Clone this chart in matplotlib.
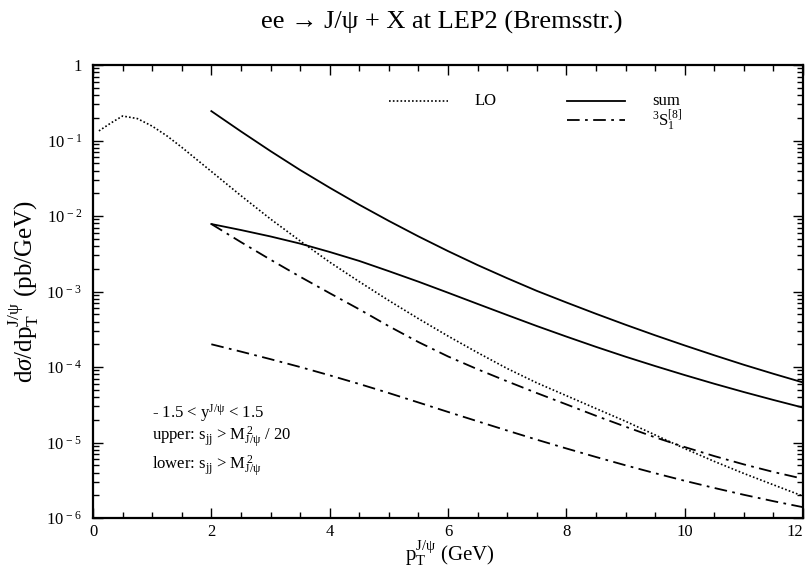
import matplotlib
matplotlib.use("Agg")
import matplotlib.pyplot as plt
from matplotlib.ticker import FixedLocator, LogLocator, NullFormatter

plt.rcParams['font.family'] = ['Liberation Serif', 'DejaVu Serif']
plt.rcParams['mathtext.fontset'] = 'custom'
plt.rcParams['mathtext.rm'] = 'Liberation Serif'
plt.rcParams['mathtext.it'] = 'Liberation Serif:italic'
plt.rcParams['mathtext.bf'] = 'Liberation Serif:bold'

# LO (dotted)
pt_lo = [0.1, 0.3, 0.5, 0.75, 1.0, 1.25, 1.5, 1.75, 2.0, 2.5, 3.0, 3.5, 4.0, 4.5,
         5.0, 5.5, 6.0, 6.5, 7.0, 7.5, 8.0, 8.5, 9.0, 9.5, 10.0, 10.5, 11.0, 11.5, 12.0]
lo = [0.134, 0.170, 0.211, 0.195, 0.155, 0.115, 0.0813, 0.0562, 0.0389, 0.0186,
      9.12e-3, 4.68e-3, 2.45e-3, 1.35e-3, 7.59e-4, 4.37e-4, 2.57e-4, 1.55e-4, 9.55e-5,
      6.17e-5, 4.17e-5, 2.82e-5, 1.91e-5, 1.26e-5, 8.32e-6, 5.62e-6, 3.89e-6, 2.75e-6, 1.95e-6]

# curves starting at pT = 2 GeV
pt = [2.0, 2.5, 3.0, 3.5, 4.0, 4.5, 5.0, 5.5, 6.0, 6.5, 7.0, 7.5, 8.0,
      8.5, 9.0, 9.5, 10.0, 10.5, 11.0, 11.5, 12.0]
sum_upper = [0.245, 0.132, 0.0724, 0.0407, 0.0237, 0.0141, 8.61e-3, 5.37e-3, 3.43e-3,
             2.24e-3, 1.50e-3, 1.02e-3, 7.16e-4, 5.07e-4, 3.63e-4, 2.63e-4, 1.93e-4,
             1.43e-4, 1.07e-4, 8.13e-5, 6.24e-5]
sum_lower = [7.83e-3, 6.52e-3, 5.36e-3, 4.31e-3, 3.34e-3, 2.54e-3, 1.86e-3, 1.35e-3,
             9.64e-4, 6.85e-4, 4.88e-4, 3.49e-4, 2.53e-4, 1.85e-4, 1.37e-4, 1.03e-4,
             7.82e-5, 6.0e-5, 4.66e-5, 3.66e-5, 2.90e-5]
s1_upper = [7.83e-3, 4.51e-3, 2.64e-3, 1.57e-3, 9.51e-4, 5.81e-4, 3.47e-4, 2.14e-4,
            1.38e-4, 9.33e-5, 6.46e-5, 4.52e-5, 3.20e-5, 2.26e-5, 1.62e-5, 1.17e-5,
            8.71e-6, 6.61e-6, 5.13e-6, 4.07e-6, 3.31e-6]
s1_lower = [2.0e-4, 1.60e-4, 1.27e-4, 1.0e-4, 7.76e-5, 5.96e-5, 4.52e-5, 3.39e-5,
            2.54e-5, 1.91e-5, 1.44e-5, 1.09e-5, 8.34e-6, 6.43e-6, 4.99e-6, 3.92e-6,
            3.11e-6, 2.50e-6, 2.03e-6, 1.67e-6, 1.39e-6]

yticks = [1e-6, 1e-5, 1e-4, 1e-3, 1e-2, 1e-1, 1]
yticklabels = [r"10$^{\,-6}$", r"10$^{\,-5}$", r"10$^{\,-4}$", r"10$^{\,-3}$",
               r"10$^{\,-2}$", r"10$^{\,-1}$", "1"]
xticks = [0, 2, 4, 6, 8, 10, 12]

dashdot = (0, (7, 3, 1.5, 3))
dotted = (0, (1, 1.3))

fig = plt.figure(figsize=(8.09, 5.71), dpi=100)
ax = fig.add_axes([93 / 809, 53 / 571, 710 / 809, 453 / 571])

ax.plot(pt_lo, lo, color='black', lw=1.2, linestyle=dotted)
ax.plot(pt, sum_upper, color='black', lw=1.3)
ax.plot(pt, sum_lower, color='black', lw=1.3)
ax.plot(pt, s1_upper, color='black', lw=1.3, linestyle=dashdot)
ax.plot(pt, s1_lower, color='black', lw=1.3, linestyle=dashdot)

ax.set_yscale('log')
ax.set_xlim(0, 12)
ax.set_ylim(1e-6, 1)
ax.set_xticks(xticks)
ax.xaxis.set_minor_locator(FixedLocator([x / 2 for x in range(25)]))
ax.set_yticks(yticks)
ax.set_yticklabels(yticklabels)
ax.yaxis.set_minor_locator(LogLocator(base=10, subs=range(2, 10), numticks=20))
ax.yaxis.set_minor_formatter(NullFormatter())

ax.tick_params(which='both', direction='in', top=True, right=True, width=1.0)
ax.tick_params(which='major', length=7, labelsize=12, pad=8)
ax.tick_params(axis='x', which='major', pad=4)
ax.tick_params(which='minor', length=4)
for s in ax.spines.values():
    s.set_linewidth(1.6)
ax.get_xticklabels()[-1].set_horizontalalignment('right')

# x label placed by hand so that it fits under the tick labels
fig.text(450 / 809, 2 / 571, r"p$_{\rm T}^{\rm J/\psi}$ (GeV)", fontsize=15,
         ha='center', va='bottom')
ax.set_ylabel(r"d$\sigma$/dp$_{\rm T}^{\rm J/\psi}$ (pb/GeV)", fontsize=18, labelpad=4)

fig.text(442 / 809, 1 - 22 / 571, "ee \u2192 J/\u03c8 + X at LEP2 (Bremsstr.)",
         ha='center', va='center', fontsize=19)

# legend drawn by hand, as in the original figure
tr = ax.transAxes
ax.plot([0.417, 0.5], [0.9205, 0.9205], transform=tr, color='black', lw=1.2, linestyle=dotted)
ax.text(0.538, 0.9205, "LO", transform=tr, va='center', ha='left', fontsize=12)
ax.plot([0.668, 0.749], [0.9205, 0.9205], transform=tr, color='black', lw=1.3)
ax.text(0.787, 0.9205, "sum", transform=tr, va='center', ha='left', fontsize=12)
ax.plot([0.668, 0.749], [0.879, 0.879], transform=tr, color='black', lw=1.3, linestyle=dashdot)
ax.text(0.787, 0.879, r"$^{3}$S$_{1}^{[8]}$", transform=tr, va='center', ha='left', fontsize=12)

ax.text(0.083, 0.232, r"- 1.5 < y$^{\rm J/\psi}$ < 1.5", transform=tr,
        va='center', ha='left', fontsize=12)
ax.text(0.083, 0.177, r"upper: s$_{\rm jj}$ > M$_{\rm J/\psi}^{\,2}$ / 20", transform=tr,
        va='center', ha='left', fontsize=12)
ax.text(0.083, 0.113, r"lower: s$_{\rm jj}$ > M$_{\rm J/\psi}^{\,2}$", transform=tr,
        va='center', ha='left', fontsize=12)

fig.savefig("out.png", dpi=100)
